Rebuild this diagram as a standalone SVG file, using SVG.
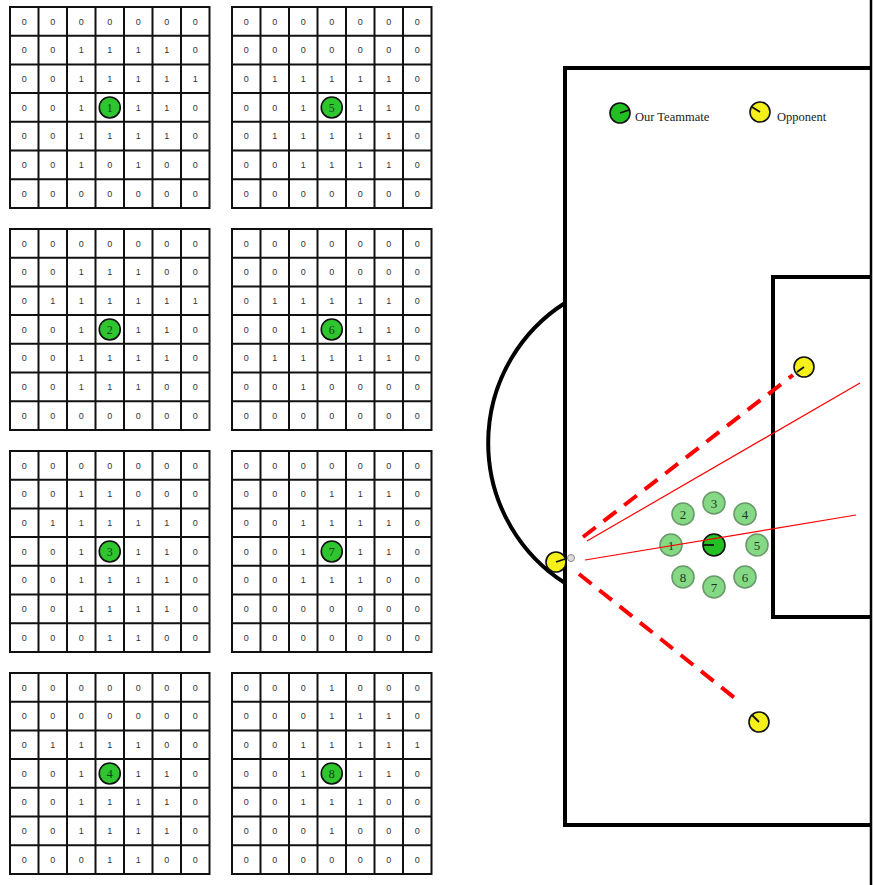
<svg xmlns="http://www.w3.org/2000/svg" width="873" height="885" viewBox="0 0 873 885">
<style>
.gl{fill:none;stroke:#111;stroke-width:2}
.gt{font-family:"Liberation Sans",Arial,sans-serif;font-size:9px;fill:#333;text-anchor:middle}
.gc{fill:#2ec52e;stroke:#111;stroke-width:1.6}
.gn{font-family:"Liberation Serif","Times New Roman",serif;font-size:12px;fill:#144014;text-anchor:middle}
.field{fill:none;stroke:#000;stroke-width:4}
.mate{fill:#22c022;stroke:#111;stroke-width:1.6}
.opp{fill:#f5f01a;stroke:#111;stroke-width:1.6}
.dir{stroke:#111;stroke-width:1.8}
.cand{fill:#85d985;stroke:#6a9a6a;stroke-width:1.6}
.cn{font-family:"Liberation Serif","Times New Roman",serif;font-size:13px;fill:#1c3a1c;text-anchor:middle}
.leg{font-family:"Liberation Serif","Times New Roman",serif;font-size:12.5px;fill:#222}
.dash{stroke:#ff0000;stroke-width:4;stroke-dasharray:16 10;fill:none}
.thin{stroke:#ff0000;stroke-width:1.2;fill:none}
</style>
<defs>
<path id="grid" class="gl" d="M0,0H199.5V200.9H0Z M28.5,0V200.9 M57,0V200.9 M85.5,0V200.9 M114,0V200.9 M142.5,0V200.9 M171,0V200.9 M0,28.7H199.5 M0,57.4H199.5 M0,86.1H199.5 M0,114.8H199.5 M0,143.5H199.5 M0,172.2H199.5"/>
</defs>
<rect width="873" height="885" fill="#fff"/>

<g id="grid1" transform="translate(10,7)">
<use href="#grid"/>
<text class="gt" x="14.25 42.75 71.25 99.75 128.25 156.75 185.25" y="17.5">0000000</text>
<text class="gt" x="14.25 42.75 71.25 99.75 128.25 156.75 185.25" y="46.2">0011110</text>
<text class="gt" x="14.25 42.75 71.25 99.75 128.25 156.75 185.25" y="75">0011111</text>
<text class="gt" x="14.25 42.75 71.25" y="103.7">001</text>
<text class="gt" x="128.25 156.75 185.25" y="103.7">110</text>
<text class="gt" x="14.25 42.75 71.25 99.75 128.25 156.75 185.25" y="132.4">0011110</text>
<text class="gt" x="14.25 42.75 71.25 99.75 128.25 156.75 185.25" y="161.1">0010100</text>
<text class="gt" x="14.25 42.75 71.25 99.75 128.25 156.75 185.25" y="189.8">0000000</text>
<circle class="gc" cx="99.75" cy="100.45" r="10.5"/>
<text class="gn" x="99.75" y="104.6">1</text>
</g>

<g id="grid5" transform="translate(232,7)">
<use href="#grid"/>
<text class="gt" x="14.25 42.75 71.25 99.75 128.25 156.75 185.25" y="17.5">0000000</text>
<text class="gt" x="14.25 42.75 71.25 99.75 128.25 156.75 185.25" y="46.2">0000000</text>
<text class="gt" x="14.25 42.75 71.25 99.75 128.25 156.75 185.25" y="75">0111110</text>
<text class="gt" x="14.25 42.75 71.25" y="103.7">001</text>
<text class="gt" x="128.25 156.75 185.25" y="103.7">110</text>
<text class="gt" x="14.25 42.75 71.25 99.75 128.25 156.75 185.25" y="132.4">0111110</text>
<text class="gt" x="14.25 42.75 71.25 99.75 128.25 156.75 185.25" y="161.1">0011110</text>
<text class="gt" x="14.25 42.75 71.25 99.75 128.25 156.75 185.25" y="189.8">0000000</text>
<circle class="gc" cx="99.75" cy="100.45" r="10.5"/>
<text class="gn" x="99.75" y="104.6">5</text>
</g>

<g id="grid2" transform="translate(10,229)">
<use href="#grid"/>
<text class="gt" x="14.25 42.75 71.25 99.75 128.25 156.75 185.25" y="17.5">0000000</text>
<text class="gt" x="14.25 42.75 71.25 99.75 128.25 156.75 185.25" y="46.2">0011100</text>
<text class="gt" x="14.25 42.75 71.25 99.75 128.25 156.75 185.25" y="75">0111111</text>
<text class="gt" x="14.25 42.75 71.25" y="103.7">001</text>
<text class="gt" x="128.25 156.75 185.25" y="103.7">110</text>
<text class="gt" x="14.25 42.75 71.25 99.75 128.25 156.75 185.25" y="132.4">0011110</text>
<text class="gt" x="14.25 42.75 71.25 99.75 128.25 156.75 185.25" y="161.1">0011100</text>
<text class="gt" x="14.25 42.75 71.25 99.75 128.25 156.75 185.25" y="189.8">0000000</text>
<circle class="gc" cx="99.75" cy="100.45" r="10.5"/>
<text class="gn" x="99.75" y="104.6">2</text>
</g>

<g id="grid6" transform="translate(232,229)">
<use href="#grid"/>
<text class="gt" x="14.25 42.75 71.25 99.75 128.25 156.75 185.25" y="17.5">0000000</text>
<text class="gt" x="14.25 42.75 71.25 99.75 128.25 156.75 185.25" y="46.2">0000000</text>
<text class="gt" x="14.25 42.75 71.25 99.75 128.25 156.75 185.25" y="75">0111110</text>
<text class="gt" x="14.25 42.75 71.25" y="103.7">001</text>
<text class="gt" x="128.25 156.75 185.25" y="103.7">110</text>
<text class="gt" x="14.25 42.75 71.25 99.75 128.25 156.75 185.25" y="132.4">0111110</text>
<text class="gt" x="14.25 42.75 71.25 99.75 128.25 156.75 185.25" y="161.1">0010000</text>
<text class="gt" x="14.25 42.75 71.25 99.75 128.25 156.75 185.25" y="189.8">0000000</text>
<circle class="gc" cx="99.75" cy="100.45" r="10.5"/>
<text class="gn" x="99.75" y="104.6">6</text>
</g>

<g id="grid3" transform="translate(10,451)">
<use href="#grid"/>
<text class="gt" x="14.25 42.75 71.25 99.75 128.25 156.75 185.25" y="17.5">0000000</text>
<text class="gt" x="14.25 42.75 71.25 99.75 128.25 156.75 185.25" y="46.2">0011000</text>
<text class="gt" x="14.25 42.75 71.25 99.75 128.25 156.75 185.25" y="75">0111110</text>
<text class="gt" x="14.25 42.75 71.25" y="103.7">001</text>
<text class="gt" x="128.25 156.75 185.25" y="103.7">110</text>
<text class="gt" x="14.25 42.75 71.25 99.75 128.25 156.75 185.25" y="132.4">0011110</text>
<text class="gt" x="14.25 42.75 71.25 99.75 128.25 156.75 185.25" y="161.1">0011110</text>
<text class="gt" x="14.25 42.75 71.25 99.75 128.25 156.75 185.25" y="189.8">0001100</text>
<circle class="gc" cx="99.75" cy="100.45" r="10.5"/>
<text class="gn" x="99.75" y="104.6">3</text>
</g>

<g id="grid7" transform="translate(232,451)">
<use href="#grid"/>
<text class="gt" x="14.25 42.75 71.25 99.75 128.25 156.75 185.25" y="17.5">0000000</text>
<text class="gt" x="14.25 42.75 71.25 99.75 128.25 156.75 185.25" y="46.2">0001110</text>
<text class="gt" x="14.25 42.75 71.25 99.75 128.25 156.75 185.25" y="75">0011110</text>
<text class="gt" x="14.25 42.75 71.25" y="103.7">001</text>
<text class="gt" x="128.25 156.75 185.25" y="103.7">110</text>
<text class="gt" x="14.25 42.75 71.25 99.75 128.25 156.75 185.25" y="132.4">0011100</text>
<text class="gt" x="14.25 42.75 71.25 99.75 128.25 156.75 185.25" y="161.1">0000000</text>
<text class="gt" x="14.25 42.75 71.25 99.75 128.25 156.75 185.25" y="189.8">0000000</text>
<circle class="gc" cx="99.75" cy="100.45" r="10.5"/>
<text class="gn" x="99.75" y="104.6">7</text>
</g>

<g id="grid4" transform="translate(10,673)">
<use href="#grid"/>
<text class="gt" x="14.25 42.75 71.25 99.75 128.25 156.75 185.25" y="17.5">0000000</text>
<text class="gt" x="14.25 42.75 71.25 99.75 128.25 156.75 185.25" y="46.2">0000000</text>
<text class="gt" x="14.25 42.75 71.25 99.75 128.25 156.75 185.25" y="75">0111100</text>
<text class="gt" x="14.25 42.75 71.25" y="103.7">001</text>
<text class="gt" x="128.25 156.75 185.25" y="103.7">110</text>
<text class="gt" x="14.25 42.75 71.25 99.75 128.25 156.75 185.25" y="132.4">0011110</text>
<text class="gt" x="14.25 42.75 71.25 99.75 128.25 156.75 185.25" y="161.1">0011110</text>
<text class="gt" x="14.25 42.75 71.25 99.75 128.25 156.75 185.25" y="189.8">0001100</text>
<circle class="gc" cx="99.75" cy="100.45" r="10.5"/>
<text class="gn" x="99.75" y="104.6">4</text>
</g>

<g id="grid8" transform="translate(232,673)">
<use href="#grid"/>
<text class="gt" x="14.25 42.75 71.25 99.75 128.25 156.75 185.25" y="17.5">0001000</text>
<text class="gt" x="14.25 42.75 71.25 99.75 128.25 156.75 185.25" y="46.2">0001110</text>
<text class="gt" x="14.25 42.75 71.25 99.75 128.25 156.75 185.25" y="75">0011111</text>
<text class="gt" x="14.25 42.75 71.25" y="103.7">001</text>
<text class="gt" x="128.25 156.75 185.25" y="103.7">110</text>
<text class="gt" x="14.25 42.75 71.25 99.75 128.25 156.75 185.25" y="132.4">0011100</text>
<text class="gt" x="14.25 42.75 71.25 99.75 128.25 156.75 185.25" y="161.1">0001000</text>
<text class="gt" x="14.25 42.75 71.25 99.75 128.25 156.75 185.25" y="189.8">0000000</text>
<circle class="gc" cx="99.75" cy="100.45" r="10.5"/>
<text class="gn" x="99.75" y="104.6">8</text>
</g>

<g id="pitch">
<line x1="871" y1="0" x2="871" y2="885" stroke="#000" stroke-width="2.5"/>
<path class="field" d="M871,68H565V825H871"/>
<path class="field" d="M871,277H773V617H871"/>
<path class="field" stroke-width="3.5" d="M565,303A166,166 0 0 0 565,583"/>
</g>

<g id="legend">
<circle class="mate" cx="620" cy="113" r="10"/>
<line class="dir" x1="620" y1="113" x2="629" y2="110"/>
<text class="leg" x="635" y="121">Our Teammate</text>
<circle class="opp" cx="760" cy="112" r="10"/>
<line class="dir" x1="760" y1="112" x2="752" y2="107"/>
<text class="leg" x="777" y="121">Opponent</text>
</g>

<g id="pos1"><circle class="cand" cx="671" cy="545" r="11"/><text class="cn" x="671" y="549.5">1</text></g>
<g id="pos2"><circle class="cand" cx="683" cy="514" r="11"/><text class="cn" x="683" y="518.5">2</text></g>
<g id="pos3"><circle class="cand" cx="714" cy="503" r="11"/><text class="cn" x="714" y="507.5">3</text></g>
<g id="pos4"><circle class="cand" cx="745" cy="514" r="11"/><text class="cn" x="745" y="518.5">4</text></g>
<g id="pos5"><circle class="cand" cx="757" cy="545" r="11"/><text class="cn" x="757" y="549.5">5</text></g>
<g id="pos6"><circle class="cand" cx="745" cy="577" r="11"/><text class="cn" x="745" y="581.5">6</text></g>
<g id="pos7"><circle class="cand" cx="714" cy="587" r="11"/><text class="cn" x="714" y="591.5">7</text></g>
<g id="pos8"><circle class="cand" cx="683" cy="577" r="11"/><text class="cn" x="683" y="581.5">8</text></g>
<g id="teammate">
<circle class="mate" cx="714" cy="545" r="11"/>
<line class="dir" x1="714" y1="545" x2="703" y2="545"/>
</g>

<g id="connectors">
<line class="dash" x1="583" y1="537" x2="793" y2="375"/>
<line class="dash" x1="579" y1="574" x2="741" y2="703"/>
<line class="thin" x1="587" y1="541" x2="860" y2="383"/>
<line class="thin" x1="585" y1="560" x2="856" y2="515"/>
</g>

<g id="opponent-left">
<circle class="opp" cx="556" cy="562" r="10"/>
<line class="dir" x1="556" y1="562" x2="565" y2="559"/>
</g>
<g id="ball">
<circle cx="571" cy="558" r="3.5" fill="#ddd" stroke="#888" stroke-width="1"/>
</g>
<g id="opponent-top">
<circle class="opp" cx="804" cy="367" r="10"/>
<line class="dir" x1="804" y1="367" x2="797" y2="372"/>
</g>
<g id="opponent-bottom">
<circle class="opp" cx="759" cy="722" r="10"/>
<line class="dir" x1="759" y1="722" x2="752" y2="715"/>
</g>
</svg>
